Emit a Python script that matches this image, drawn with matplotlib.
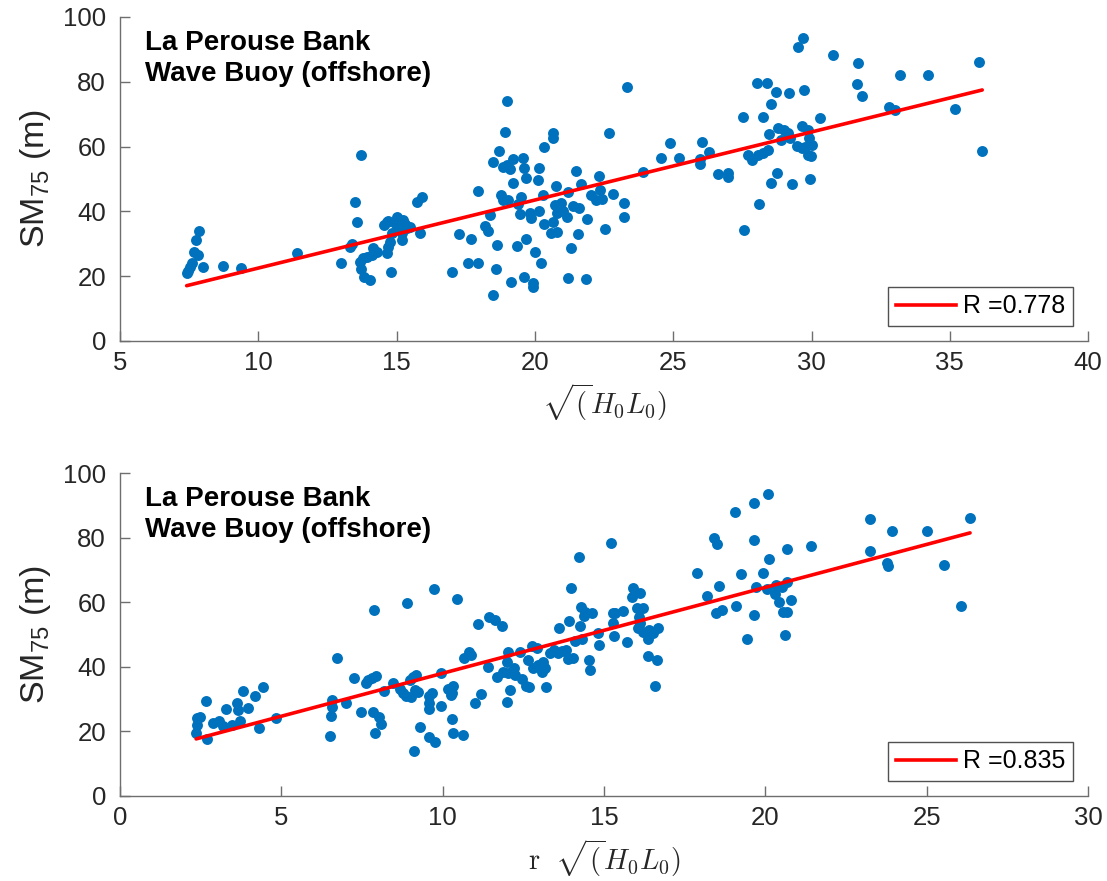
import numpy as np
import matplotlib
matplotlib.use("Agg")
import matplotlib.pyplot as plt
from matplotlib.lines import Line2D

plt.rcParams["font.family"] = ["Liberation Sans", "DejaVu Sans"]
plt.rcParams["mathtext.fontset"] = "custom"
plt.rcParams["mathtext.rm"] = "Liberation Sans"
plt.rcParams["mathtext.it"] = "Liberation Sans:italic"

# --- Panel 1: SM75 against sqrt(H0 L0) ---
hl_x = [
    7.41, 7.47, 7.53, 7.61, 7.69, 7.81, 7.75, 7.86, 8.01, 8.73, 9.36, 11.39,
    12.98, 13.32, 13.38, 13.50, 13.58, 13.73, 13.68, 13.80, 13.92, 14.10, 14.16,
    14.28, 13.70, 13.82, 14.03, 14.64, 14.68, 14.76, 14.80, 14.54, 14.70,
    14.64, 14.94, 15.00, 15.24, 15.36, 15.18, 15.18, 15.00, 14.82, 15.12,
    15.48, 15.06, 15.30, 15.85, 15.72, 15.90, 17.00, 17.25,
    17.69, 17.59, 17.95, 17.93, 18.20, 18.32, 18.38, 18.50, 18.59, 18.64,
    18.50, 18.69, 18.76, 18.84, 18.98, 19.10, 19.20, 18.92, 19.00, 18.86,
    19.04, 19.20, 19.36, 19.12, 19.46, 19.50, 19.40, 19.58, 19.61, 19.68,
    19.68, 19.61, 19.82, 19.86, 19.94, 19.94, 20.02, 20.13, 20.10, 20.16,
    20.22, 20.34, 20.28, 20.34, 20.66, 20.66, 20.76, 20.58, 20.81, 20.66,
    20.73, 20.85, 20.79, 20.93, 21.00, 21.15, 21.18, 21.36, 21.60, 21.29,
    21.18, 21.49, 21.55, 21.67, 21.84, 21.87, 22.03, 22.21, 22.33, 22.35,
    22.44, 22.53, 22.69, 22.81, 23.23, 23.23, 23.34, 23.89, 24.56, 24.88,
    25.22, 25.97, 25.97, 26.03, 26.31, 26.63, 26.99, 26.99,
    27.53, 27.56, 28.11, 27.72, 27.86, 28.08, 28.26, 28.44, 28.02, 28.38,
    28.26, 28.46, 28.52, 28.52, 28.70, 28.74, 28.80, 29.01, 29.14, 28.89,
    29.22, 29.20, 29.31, 29.46, 29.64, 29.76, 29.50, 29.70, 29.64, 29.74,
    29.88, 29.92, 30.00, 29.88, 29.97, 29.95, 30.31, 30.79, 31.66, 31.69,
    31.84, 32.80, 33.02, 33.18, 34.22, 35.19, 36.07, 36.17,
]
hl_sm = [
    21.1, 21.7, 22.9, 24.0, 27.4, 26.5, 31.2, 34.0, 22.9, 23.2, 22.6, 27.0,
    24.0, 29.1, 30.0, 42.8, 36.8, 57.4, 24.5, 25.7, 26.0, 26.5, 28.6,
    27.6, 22.1, 19.6, 18.7, 27.0, 29.1, 30.6, 21.4, 35.8, 37.1,
    36.8, 36.3, 38.4, 37.3, 34.8, 33.2, 31.2, 34.3, 33.2, 35.3,
    35.3, 36.9, 36.0, 33.2, 43.0, 44.5, 21.4, 33.0,
    31.6, 24.2, 24.2, 46.4, 35.6, 33.9, 38.9, 14.2, 22.2, 29.5,
    55.3, 58.7, 45.1, 53.6, 54.3, 53.0, 56.2, 64.4, 74.1, 43.5,
    43.5, 48.7, 29.4, 18.3, 39.1, 44.5, 42.2, 56.6, 53.3, 50.4,
    31.6, 19.7, 39.4, 37.9, 17.8, 16.6, 27.6, 40.1, 49.7, 53.5,
    24.0, 59.8, 45.1, 36.1, 64.1, 62.6, 47.8, 33.4, 33.7, 36.8,
    42.0, 41.3, 39.6, 42.7, 40.2, 38.4, 46.1, 41.7, 41.0, 28.8,
    19.3, 52.6, 32.9, 48.4, 19.1, 37.6, 45.1, 43.5, 50.9, 46.6,
    43.8, 34.5, 64.1, 45.3, 42.7, 38.2, 78.3, 52.1, 56.6, 61.0,
    56.6, 56.1, 54.6, 61.3, 58.2, 51.5, 51.9, 50.5,
    69.0, 34.3, 42.2, 57.4, 55.9, 57.4, 58.1, 59.0, 79.5, 79.5,
    69.2, 63.8, 73.1, 48.7, 76.8, 51.7, 65.6, 65.1, 64.1, 62.0,
    62.6, 76.5, 48.5, 60.2, 59.5, 60.0, 90.8, 93.4, 66.4, 77.5,
    65.1, 62.6, 60.5, 57.4, 57.1, 49.9, 68.7, 88.1, 79.2, 85.7,
    75.7, 72.1, 71.3, 82.1, 82.1, 71.5, 86.0, 58.7,
]
hl_r = 0.778

# --- Panel 2: SM75 against r * sqrt(H0 L0) ---
rhl_x = [
    2.36, 2.40, 2.38, 2.48, 2.71, 2.66, 2.89, 3.08, 3.18, 3.28, 3.46, 3.64,
    3.67, 3.72, 3.82, 3.96, 4.18, 4.32, 4.42, 4.82, 6.51, 6.54, 6.56, 6.57,
    6.71, 6.99, 7.26, 7.46, 7.62, 7.70, 7.80, 7.92, 7.85, 7.88, 7.90, 8.01,
    8.09, 8.19, 8.47, 8.68, 8.78, 8.86, 8.90, 8.99, 9.09, 9.17, 9.01, 9.14,
    9.22, 9.11, 9.30, 9.59, 9.66, 9.58, 9.56, 9.56, 9.76, 9.73, 9.94, 9.94,
    10.17, 10.28, 10.31, 10.26, 10.28, 10.33, 10.64, 10.43, 10.66, 10.82,
    10.87, 11.00, 11.18, 11.10, 11.41, 11.44, 11.62, 11.83, 11.67, 11.88,
    12.00, 12.03, 12.03, 12.21, 12.24, 12.09, 12.00, 12.40, 12.45, 12.58,
    12.68, 12.65, 12.76, 12.91, 12.81, 12.96, 13.07, 13.12, 13.17, 13.20,
    13.32, 13.46, 13.58, 13.69, 13.82, 13.89, 14.05, 13.60, 13.91, 13.98,
    14.10, 14.23, 14.25, 14.31, 14.29, 14.41, 14.39, 14.62, 14.54, 14.56,
    14.82, 14.84, 15.22, 15.29, 15.29, 15.34, 15.60, 15.31, 15.72, 15.89,
    15.88, 16.11, 16.01, 16.20, 16.09, 16.11, 16.04, 16.22, 16.40, 16.53,
    16.68, 16.37, 16.37, 16.63, 16.58, 17.89, 18.18, 18.41, 18.49, 18.57,
    18.47, 18.65, 19.06, 19.09, 19.23, 19.42, 19.63, 19.63, 19.65, 19.71,
    19.92, 20.09, 20.12, 20.04, 20.33, 20.66, 20.52, 20.30, 20.42, 20.54,
    20.66, 20.79, 20.61, 20.66, 21.40, 23.24, 23.24, 23.91, 23.76, 23.81,
    25.00, 25.54, 26.06, 26.34,
]
rhl_sm = [
    19.6, 22.0, 24.0, 24.4, 17.5, 29.5, 22.5, 23.2, 21.7, 26.9, 22.0, 28.9,
    26.6, 23.2, 32.5, 27.3, 31.1, 21.1, 33.8, 24.0, 18.7, 24.8, 27.6, 29.7,
    42.6, 28.7, 36.6, 25.9, 35.1, 35.9, 36.6, 37.2, 25.9, 57.6, 19.4, 24.6,
    22.2, 32.5, 35.1, 33.1, 32.0, 31.1, 59.8, 35.9, 36.7, 37.5, 30.7, 32.8,
    32.3, 14.0, 21.3, 31.1, 31.8, 28.7, 26.8, 18.2, 16.6, 64.1, 38.0, 27.9,
    33.0, 32.0, 34.1, 31.3, 23.8, 19.6, 18.9, 60.9, 42.8, 44.7,
    43.7, 28.7, 31.6, 53.3, 40.0, 55.5, 54.5, 52.7, 36.9, 38.5,
    41.6, 44.5, 38.0, 39.5, 37.5, 32.8, 29.2, 44.7, 36.2, 34.1,
    33.8, 42.1, 46.5, 45.7, 39.5, 40.6, 38.5, 41.6, 39.5, 33.8,
    44.2, 45.2, 44.2, 45.0, 45.2, 42.3, 42.8, 52.1, 54.2, 64.3,
    48.0, 74.1, 52.7, 48.5, 58.6, 57.1, 55.7, 56.6, 42.1, 39.0,
    50.4, 46.7, 78.4, 53.7, 56.8, 56.6, 57.3, 49.5, 47.8, 64.3,
    61.5, 62.8, 58.1, 58.3, 55.5, 53.5, 51.9, 50.9, 51.4, 50.4,
    51.9, 48.5, 43.3, 42.1, 34.1, 68.9, 61.9, 79.8, 77.9, 65.1,
    56.6, 57.6, 88.0, 58.8, 68.6, 48.5, 90.8, 79.3, 56.0, 64.8,
    69.1, 93.5, 73.3, 64.0, 65.3, 66.3, 64.8, 62.5, 60.2, 57.1,
    56.9, 60.7, 49.8, 76.5, 77.5, 85.8, 75.9, 82.1, 72.0, 71.2,
    82.1, 71.5, 58.7, 86.1,
]
rhl_r = 0.835

site_label = "La Perouse Bank\nWave Buoy (offshore)"
ylab = r"SM$_{\mathrm{75}}$ (m)"
xlab_top = r"$\sqrt{(}H_0L_0)$"
xlab_bot = r"$\mathrm{r}\ \ \sqrt{(}H_0L_0)$"

dot_color = "#0072BD"
axis_gray = "#6e6e6e"

fig = plt.figure(figsize=(11.07, 8.81), dpi=100)
ax1 = fig.add_axes([0.1084, 0.613, 0.8746, 0.3678])
ax2 = fig.add_axes([0.1084, 0.0965, 0.8746, 0.3666])


def draw_panel(ax, x, y, r, xlim, xticks, xlabel):
    x = np.asarray(x)
    y = np.asarray(y)
    ax.scatter(x, y, s=62, color=dot_color, linewidths=0, zorder=2)
    slope, icpt = np.polyfit(x, y, 1)
    xf = np.array([x.min(), x.max()])
    ax.plot(xf, slope * xf + icpt, color="red", lw=2.6, zorder=3,
            solid_capstyle="round")
    ax.set_xlim(*xlim)
    ax.set_ylim(0, 100)
    ax.set_xticks(xticks)
    ax.set_yticks(np.arange(0, 101, 20))
    for side in ("top", "right"):
        ax.spines[side].set_visible(False)
    for side in ("left", "bottom"):
        ax.spines[side].set_color(axis_gray)
        ax.spines[side].set_linewidth(1.0)
    ax.tick_params(direction="in", length=7, width=1.0, color=axis_gray,
                   labelsize=18.5, labelcolor="#262626")
    ax.tick_params(axis="y", pad=10)
    ax.tick_params(axis="x", pad=7)
    ax.set_ylabel(ylab, fontsize=24.5, color="#262626", labelpad=7)
    ax.set_xlabel(xlabel, fontsize=20.5, color="#262626", labelpad=5,
                  math_fontfamily="cm")
    ax.text(0.026, 0.96, site_label, transform=ax.transAxes, ha="left",
            va="top", fontsize=20, fontweight="bold", linespacing=1.25)
    handle = Line2D([], [], color="red", lw=2.6)
    leg = ax.legend([handle], [f"R ={r:.3f}"], loc="lower right",
                    fontsize=18, frameon=True, fancybox=False,
                    handlelength=2.4, handletextpad=0.3, borderpad=0.3,
                    borderaxespad=0.6)
    leg.get_frame().set_edgecolor("#262626")
    leg.get_frame().set_linewidth(1.0)


draw_panel(ax1, hl_x, hl_sm, hl_r, (5, 40), np.arange(5, 41, 5), xlab_top)
draw_panel(ax2, rhl_x, rhl_sm, rhl_r, (0, 30), np.arange(0, 31, 5), xlab_bot)

fig.savefig("out.png", dpi=100)
